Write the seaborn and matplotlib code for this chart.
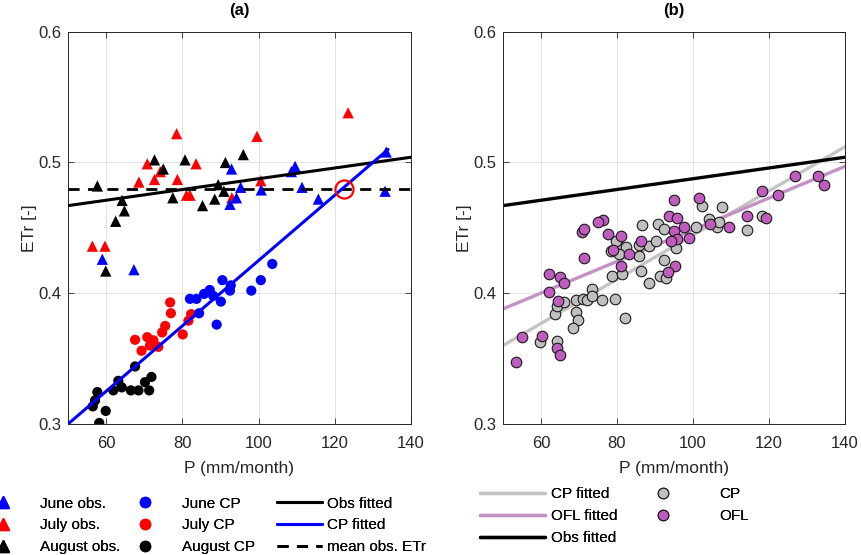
import numpy as np
import pandas as pd
import seaborn as sns
import matplotlib
matplotlib.use("Agg")
import matplotlib.pyplot as plt
from matplotlib.lines import Line2D

# ---------------- data: panel (a) ----------------
june_obs_x = [133.5, 109.6, 108.6, 111.4, 115.7, 133.2, 92.9, 95.3, 100.7, 92.5, 94.2, 59.0, 67.3]
june_obs_y = [0.508, 0.497, 0.493, 0.481, 0.472, 0.478, 0.495, 0.481, 0.479, 0.468, 0.473, 0.426, 0.418]

july_obs_x = [123.5, 78.5, 99.6, 70.8, 83.6, 68.6, 72.7, 74.2, 78.7, 81.1, 82.0, 100.6, 93.0, 56.4, 59.7]
july_obs_y = [0.538, 0.522, 0.520, 0.499, 0.499, 0.485, 0.487, 0.493, 0.487, 0.475, 0.475, 0.486, 0.473, 0.436, 0.436]

aug_obs_x = [57.7, 64.2, 64.8, 62.5, 72.7, 75.0, 80.7, 77.5, 85.3, 88.5, 89.4, 90.9, 91.3, 96.0, 59.9]
aug_obs_y = [0.482, 0.471, 0.463, 0.455, 0.502, 0.495, 0.502, 0.473, 0.467, 0.472, 0.483, 0.478, 0.500, 0.506, 0.417]

june_cp_x = [103.6, 100.6, 98.1, 90.5, 92.7, 92.5, 87.2, 85.7, 83.7, 82.0, 88.1, 90.1, 84.4, 89.0]
june_cp_y = [0.4224, 0.410, 0.402, 0.410, 0.406, 0.402, 0.4025, 0.3995, 0.3957, 0.3957, 0.398, 0.3936, 0.3847, 0.376]

july_cp_x = [76.8, 77.0, 82.3, 81.6, 75.5, 74.7, 80.1, 67.6, 70.8, 72.4, 69.3, 71.5, 73.7]
july_cp_y = [0.393, 0.3847, 0.384, 0.379, 0.375, 0.370, 0.3685, 0.3644, 0.3664, 0.364, 0.356, 0.360, 0.359]

aug_cp_x = [67.6, 63.2, 61.9, 64.1, 66.5, 68.5, 70.2, 71.9, 71.3, 57.7, 57.1, 56.5, 59.9, 58.2]
aug_cp_y = [0.344, 0.333, 0.3257, 0.328, 0.3257, 0.3257, 0.332, 0.336, 0.3257, 0.3244, 0.318, 0.3135, 0.310, 0.3008]

obs_fit_x = [50, 140]
obs_fit_y = [0.467, 0.504]
cp_fit_x = [50, 134]
cp_fit_y = [0.300, 0.510]
mean_obs_x = [50, 140]
mean_obs_y = [0.480, 0.480]
cross_x = [122.3]
cross_y = [0.480]

# ---------------- data: panel (b) ----------------
cp_b_x = [59.8, 64.3, 63.8, 64.3, 66.0, 69.1, 69.1, 69.8, 68.3, 71.1, 72.2, 73.5, 73.4, 76.0,
          79.5, 82.0, 78.7, 81.2, 86.2, 88.5, 91.2, 92.9, 80.7, 82.4, 88.5, 90.3, 95.5, 92.4,
          86.6, 90.7, 92.4, 100.7, 102.3, 104.2, 106.2, 107.7, 106.8, 114.2, 118.2, 79.7,
          85.8, 85.8, 80.6, 78.4]
cp_b_y = [0.3625, 0.3635, 0.3845, 0.390, 0.393, 0.395, 0.3857, 0.3795, 0.3734, 0.3954, 0.395,
          0.4035, 0.398, 0.395, 0.3955, 0.381, 0.4132, 0.4145, 0.417, 0.408, 0.4128, 0.4117,
          0.435, 0.435, 0.4364, 0.440, 0.4346, 0.4255, 0.4524, 0.453, 0.449, 0.4504, 0.4664,
          0.4568, 0.4504, 0.4657, 0.4542, 0.4484, 0.4593, 0.440, 0.437, 0.4288, 0.430, 0.4326]

ofl_b_x = [53.4, 55.1, 60.2, 64.3, 65.1, 62.2, 62.0, 64.9, 66.0, 64.5, 71.2, 70.8, 71.2, 76.4,
           74.9, 77.7, 81.1, 78.9, 83.1, 81.1, 86.2, 95.0, 101.7, 93.6, 95.9, 97.7, 95.0, 95.7,
           94.2, 99.0, 104.4, 95.3, 93.5, 109.4, 114.3, 119.1, 118.2, 122.3, 126.9, 132.8, 134.4]
ofl_b_y = [0.3476, 0.3668, 0.3674, 0.3585, 0.353, 0.401, 0.4147, 0.4122, 0.408, 0.394, 0.4267,
           0.4466, 0.4491, 0.4562, 0.4542, 0.4455, 0.444, 0.4334, 0.430, 0.421, 0.4399, 0.4715,
           0.4726, 0.4593, 0.4573, 0.4509, 0.4479, 0.4415, 0.440, 0.4423, 0.4528, 0.4211,
           0.416, 0.4504, 0.4593, 0.4577, 0.4781, 0.4753, 0.4898, 0.4898, 0.4827]

cp_fit_b_x = [50, 140]
cp_fit_b_y = [0.360, 0.512]
ofl_fit_b_x = [50, 140]
ofl_fit_b_y = [0.388, 0.497]

x_ticks = [60, 80, 100, 120, 140]
y_ticks = [0.3, 0.4, 0.5, 0.6]
y_tick_labels = ["0.3", "0.4", "0.5", "0.6"]

# ---------------- style ----------------
sns.set_style("ticks")
plt.rcParams["font.family"] = ["Liberation Sans", "DejaVu Sans"]
TXT = "#262626"

W, H = 861, 555
fig = plt.figure(figsize=(W / 100, H / 100), dpi=100)
bottom = 1 - 424 / H
height = (424 - 31.7) / H
ax_a = fig.add_axes([68 / W, bottom, (411 - 68) / W, height])
ax_b = fig.add_axes([503 / W, bottom, (845 - 503) / W, height])

BLUE, RED, BLACK = "#0000ff", "#ff0000", "#000000"
GRAYF, PURF = "#bfbfbf", "#c05cc0"
GRAYL, PURL = "#c4c4c4", "#c491c4"

TRI_S = 66
CIR_S = 54


def tri(ax, x, y, c):
    sns.scatterplot(x=x, y=y, marker="^", s=TRI_S, color=c, edgecolor="none",
                    linewidth=0, ax=ax, zorder=3, legend=False)


def cir(ax, x, y, c):
    sns.scatterplot(x=x, y=y, marker="o", s=CIR_S, color=c, edgecolor="none",
                    linewidth=0, ax=ax, zorder=3, legend=False)


# panel (a)
tri(ax_a, july_obs_x, july_obs_y, RED)
tri(ax_a, aug_obs_x, aug_obs_y, BLACK)
tri(ax_a, june_obs_x, june_obs_y, BLUE)
cir(ax_a, july_cp_x, july_cp_y, RED)
cir(ax_a, june_cp_x, june_cp_y, BLUE)
cir(ax_a, aug_cp_x, aug_cp_y, BLACK)

ax_a.plot(mean_obs_x, mean_obs_y, color=BLACK, lw=2.0, ls=(0, (4, 3)), zorder=4)
ax_a.plot(obs_fit_x, obs_fit_y, color=BLACK, lw=2.2, zorder=4)
ax_a.plot(cp_fit_x, cp_fit_y, color=BLUE, lw=2.2, zorder=4)
ax_a.plot(cross_x, cross_y, marker="o", ms=13, mfc="none", mec=RED, mew=1.6,
          ls="none", zorder=5)

# panel (b)
ax_b.plot(cp_fit_b_x, cp_fit_b_y, color=GRAYL, lw=2.4, zorder=2)
ax_b.plot(ofl_fit_b_x, ofl_fit_b_y, color=PURL, lw=2.4, zorder=2)
ax_b.plot(obs_fit_x, obs_fit_y, color=BLACK, lw=2.4, zorder=2)
sns.scatterplot(x=cp_b_x, y=cp_b_y, marker="o", s=58, color=GRAYF, edgecolor="#1a1a1a",
                linewidth=0.8, ax=ax_b, zorder=3, legend=False)
sns.scatterplot(x=ofl_b_x, y=ofl_b_y, marker="o", s=58, color=PURF, edgecolor="#1a1a1a",
                linewidth=0.8, ax=ax_b, zorder=4, legend=False)

for ax, ttl in ((ax_a, "(a)"), (ax_b, "(b)")):
    ax.set_xlim(50, 140)
    ax.set_ylim(0.3, 0.6)
    ax.set_xticks(x_ticks)
    ax.set_xticklabels([str(t) for t in x_ticks])
    ax.set_yticks(y_ticks)
    ax.set_yticklabels(y_tick_labels)
    ax.grid(True, color="#e3e3e3", linewidth=0.7)
    ax.set_axisbelow(True)
    ax.tick_params(direction="in", top=True, right=True, length=4, width=0.6,
                   colors=TXT, labelsize=12)
    ax.tick_params(axis="x", pad=8.5)
    ax.tick_params(axis="y", pad=4.5)
    for sp in ax.spines.values():
        sp.set_visible(True)
        sp.set_color(TXT)
        sp.set_linewidth(0.7)
    ax.set_xlabel("P (mm/month)", fontsize=12.5, color=TXT, labelpad=7)
    ax.set_ylabel("ETr [-]", fontsize=12.5, color=TXT, labelpad=1)
    ax.set_title(ttl, fontsize=12, fontweight="bold", color="#000000", pad=12)

# ---------------- legends ----------------
FS = 11
leg_kw = dict(frameon=False, fontsize=FS, borderpad=0, borderaxespad=0,
              labelspacing=0.52, loc="upper left", labelcolor="#000000")

h1 = [Line2D([], [], marker="^", ls="none", color=c, ms=8) for c in (BLUE, RED, BLACK)]
l1 = ["June obs.", "July obs.", "August obs."]
h2 = [Line2D([], [], marker="o", ls="none", color=c, ms=7.3) for c in (BLUE, RED, BLACK)]
l2 = ["June CP", "July CP", "August CP"]
h3 = [Line2D([], [], color=BLACK, lw=2.2), Line2D([], [], color=BLUE, lw=2.2),
      Line2D([], [], color=BLACK, lw=2.0, ls=(0, (4, 3)))]
l3 = ["Obs fitted", "CP fitted", "mean obs. ETr"]

top_a = 1 - 496.5 / H
fig.add_artist(fig.legend(h1, l1, bbox_to_anchor=(-29.5 / W, top_a),
                          handlelength=65 / 15.3, handletextpad=5 / 15.3, **leg_kw))
fig.add_artist(fig.legend(h2, l2, bbox_to_anchor=(112.5 / W, top_a),
                          handlelength=65 / 15.3, handletextpad=5 / 15.3, **leg_kw))
fig.add_artist(fig.legend(h3, l3, bbox_to_anchor=(277 / W, top_a),
                          handlelength=45 / 15.3, handletextpad=5 / 15.3, **leg_kw))

h4 = [Line2D([], [], color=GRAYL, lw=2.4), Line2D([], [], color=PURL, lw=2.4),
      Line2D([], [], color=BLACK, lw=2.4)]
l4 = ["CP fitted", "OFL fitted", "Obs fitted"]
h5 = [Line2D([], [], marker="o", ls="none", mfc=GRAYF, mec="#1a1a1a", mew=0.8, ms=7.6),
      Line2D([], [], marker="o", ls="none", mfc=PURF, mec="#1a1a1a", mew=0.8, ms=7.6)]
l5 = ["CP", "OFL"]
top_b = 1 - 487.5 / H
fig.add_artist(fig.legend(h4, l4, bbox_to_anchor=(480 / W, top_b),
                          handlelength=65 / 15.3, handletextpad=6.5 / 15.3, **leg_kw))
fig.add_artist(fig.legend(h5, l5, bbox_to_anchor=(612 / W, top_b),
                          handlelength=102 / 15.3, handletextpad=5 / 15.3, **leg_kw))

fig.savefig("out.png", dpi=100)
